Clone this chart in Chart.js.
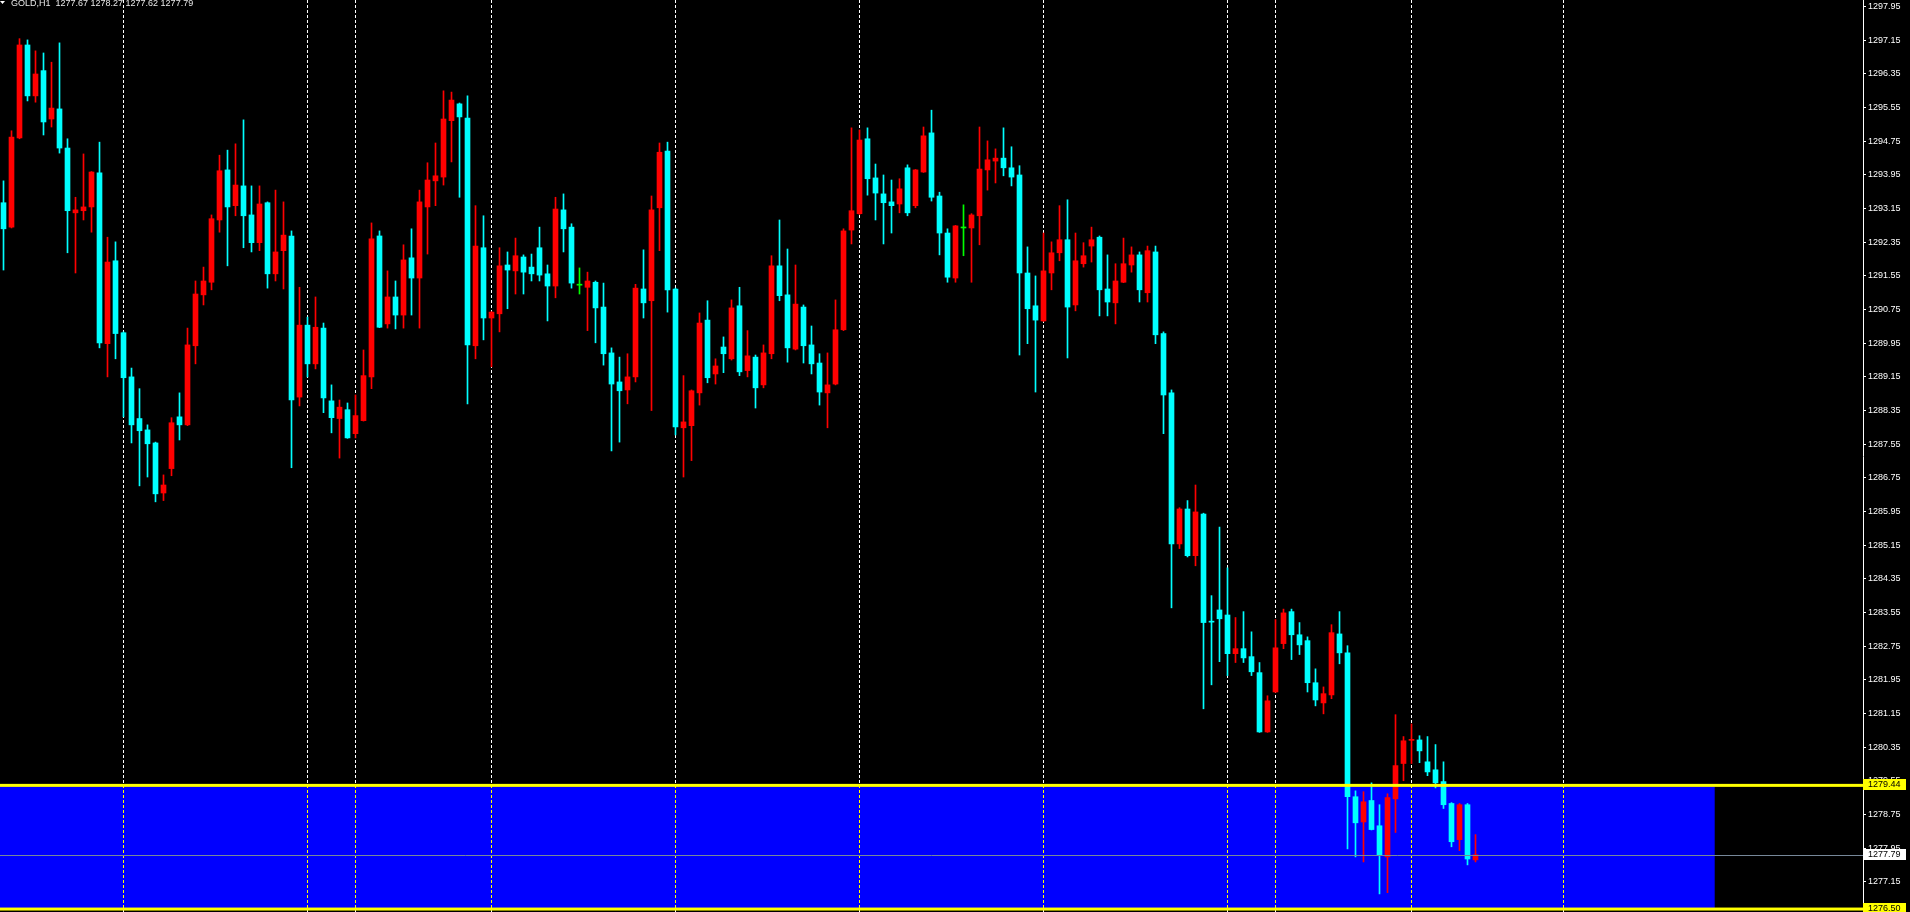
<!DOCTYPE html>
<html>
<head>
<meta charset="utf-8">
<title>GOLD,H1</title>
<script src="https://cdn.jsdelivr.net/npm/chart.js@4.4.1/dist/chart.umd.min.js"></script>
<style>
  html, body { margin: 0; padding: 0; background: #000; overflow: hidden; }
  canvas { display: block; }
</style>
</head>
<body>
<canvas id="chart" width="1910" height="912"></canvas>
<script>
// H1 bars, oldest first
const opens = [
  1293.29, 1292.71, 1294.83, 1297.04, 1295.83, 1296.43, 1295.28, 1295.52, 1294.59, 1293.05,
  1293.10, 1293.19, 1294.00, 1289.94, 1291.91, 1290.20, 1289.15, 1288.16, 1287.89, 1287.58,
  1286.39, 1286.97, 1288.20, 1288.01, 1289.89, 1291.10, 1291.40, 1292.88, 1294.07, 1293.22,
  1293.69, 1293.00, 1292.34, 1293.29, 1291.60, 1292.15, 1292.50, 1288.67, 1290.38, 1289.46,
  1290.31, 1288.58, 1288.16, 1288.37, 1287.80, 1288.11, 1289.15, 1292.50, 1290.41, 1291.05,
  1290.62, 1291.98, 1291.50, 1293.19, 1293.81, 1293.90, 1295.24, 1295.64, 1295.30, 1289.89,
  1292.22, 1290.55, 1290.65, 1291.81, 1291.67, 1292.00, 1291.76, 1292.22, 1291.60, 1291.31,
  1293.12, 1292.71, 1291.33, 1291.28, 1291.40, 1290.81, 1289.72, 1289.03, 1288.84, 1289.15,
  1291.24, 1290.96, 1293.17, 1294.52, 1291.24, 1287.94, 1287.99, 1288.77, 1290.50, 1289.22,
  1289.86, 1289.58, 1290.84, 1289.30, 1289.62, 1288.96, 1289.70, 1291.79, 1291.10, 1289.81,
  1290.81, 1289.91, 1289.48, 1288.77, 1288.98, 1290.27, 1292.64, 1293.03, 1294.81, 1293.88,
  1293.50, 1293.31, 1293.26, 1294.12, 1293.22, 1294.02, 1294.95, 1293.45, 1292.57, 1291.50,
  1292.69, 1292.69, 1292.98, 1294.07, 1294.28, 1294.35, 1294.12, 1293.95, 1291.62, 1290.84,
  1290.48, 1291.62, 1292.10, 1292.41, 1290.86, 1291.84, 1292.26, 1292.47, 1291.24, 1290.91,
  1291.40, 1291.81, 1292.05, 1291.15, 1292.12, 1290.18, 1288.77, 1285.18, 1286.01, 1284.90,
  1285.89, 1283.34, 1283.61, 1283.49, 1282.57, 1282.69, 1282.50, 1282.12, 1280.71, 1281.66,
  1282.81, 1283.57, 1283.02, 1282.88, 1281.88, 1281.40, 1281.59, 1283.04, 1282.59, 1279.17,
  1278.57, 1279.08, 1278.48, 1277.74, 1279.12, 1279.96, 1280.51, 1280.52, 1280.00, 1279.81,
  1279.53, 1279.01, 1278.15, 1278.98, 1277.67
];
const highs = [
  1293.81, 1295.00, 1297.19, 1297.16, 1296.90, 1296.85, 1296.63, 1297.09, 1294.81, 1293.42,
  1294.45, 1294.03, 1294.73, 1292.47, 1292.36, 1290.22, 1289.36, 1288.87, 1288.01, 1287.60,
  1286.82, 1288.18, 1288.77, 1290.31, 1291.43, 1291.76, 1293.00, 1294.42, 1294.54, 1294.69,
  1295.26, 1293.69, 1293.69, 1293.31, 1293.59, 1293.31, 1292.62, 1291.28, 1290.57, 1291.05,
  1290.43, 1288.96, 1288.60, 1288.53, 1288.72, 1289.79, 1292.81, 1292.62, 1291.67, 1291.43,
  1292.29, 1292.67, 1293.59, 1294.24, 1294.71, 1295.95, 1295.92, 1295.66, 1295.83, 1293.22,
  1292.98, 1290.70, 1292.22, 1292.12, 1292.45, 1292.05, 1292.07, 1292.71, 1291.81, 1293.42,
  1293.50, 1292.79, 1291.74, 1291.64, 1291.43, 1291.38, 1289.84, 1289.62, 1289.70, 1291.35,
  1292.17, 1293.45, 1294.71, 1294.73, 1291.26, 1289.18, 1288.84, 1290.67, 1290.96, 1289.58,
  1290.10, 1290.98, 1291.28, 1290.25, 1289.67, 1289.91, 1292.03, 1292.88, 1292.19, 1291.81,
  1290.86, 1290.36, 1289.70, 1289.72, 1290.98, 1292.67, 1295.07, 1295.02, 1295.07, 1294.21,
  1293.95, 1293.83, 1293.86, 1294.19, 1294.08, 1295.09, 1295.49, 1293.54, 1292.67, 1292.75,
  1293.24, 1293.03, 1295.09, 1294.76, 1294.57, 1295.07, 1294.62, 1294.17, 1292.24, 1291.55,
  1292.57, 1292.36, 1293.22, 1293.36, 1292.57, 1292.34, 1292.71, 1292.50, 1292.05, 1291.84,
  1292.45, 1292.24, 1292.12, 1292.26, 1292.26, 1290.22, 1288.84, 1286.04, 1286.21, 1286.58,
  1285.91, 1283.95, 1285.58, 1284.61, 1283.43, 1283.57, 1283.09, 1282.36, 1281.57, 1283.38,
  1283.63, 1283.63, 1283.31, 1282.97, 1282.21, 1281.78, 1283.26, 1283.57, 1282.76, 1279.31,
  1279.29, 1279.50, 1278.98, 1279.24, 1281.12, 1280.60, 1280.90, 1280.62, 1280.60, 1280.41,
  1280.00, 1279.03, 1279.01, 1279.01, 1278.27
];
const lows = [
  1291.69, 1292.69, 1294.81, 1295.71, 1295.68, 1294.90, 1295.09, 1294.47, 1292.10, 1291.62,
  1292.88, 1292.59, 1289.84, 1289.15, 1289.58, 1288.20, 1287.58, 1286.56, 1286.77, 1286.18,
  1286.21, 1286.80, 1287.65, 1287.99, 1289.46, 1290.86, 1291.22, 1292.59, 1291.79, 1292.98,
  1292.22, 1292.12, 1292.15, 1291.26, 1291.43, 1291.24, 1286.99, 1288.46, 1289.15, 1289.34,
  1288.30, 1287.82, 1287.22, 1287.69, 1287.70, 1288.10, 1288.87, 1290.32, 1290.31, 1290.29,
  1290.31, 1290.62, 1290.31, 1292.07, 1293.22, 1293.71, 1294.26, 1293.42, 1288.51, 1289.58,
  1290.03, 1289.39, 1290.22, 1290.77, 1291.12, 1291.12, 1291.43, 1291.43, 1290.48, 1291.03,
  1292.12, 1291.26, 1291.12, 1290.25, 1289.96, 1289.43, 1287.39, 1287.60, 1288.51, 1289.03,
  1290.55, 1288.35, 1292.15, 1290.69, 1287.77, 1286.77, 1287.16, 1288.48, 1289.01, 1288.98,
  1289.25, 1289.55, 1289.18, 1289.15, 1288.41, 1288.89, 1289.58, 1290.96, 1289.50, 1289.79,
  1289.48, 1289.22, 1288.48, 1287.94, 1288.96, 1290.25, 1292.31, 1293.01, 1293.47, 1292.88,
  1292.31, 1292.57, 1293.05, 1292.98, 1293.17, 1294.01, 1293.33, 1292.05, 1291.40, 1291.40,
  1292.03, 1291.40, 1292.29, 1293.59, 1293.76, 1293.93, 1293.69, 1289.67, 1289.94, 1288.79,
  1290.47, 1291.22, 1291.91, 1289.60, 1290.72, 1291.76, 1291.88, 1290.60, 1290.60, 1290.41,
  1291.39, 1291.64, 1290.93, 1290.93, 1289.94, 1287.80, 1283.66, 1285.07, 1284.87, 1284.66,
  1281.26, 1281.83, 1282.38, 1282.05, 1282.36, 1282.36, 1282.05, 1280.70, 1280.70, 1281.65,
  1282.69, 1282.43, 1282.55, 1281.66, 1281.33, 1281.14, 1281.50, 1282.33, 1277.93, 1277.74,
  1277.62, 1278.38, 1276.86, 1276.89, 1278.32, 1279.55, 1279.96, 1279.98, 1279.67, 1279.38,
  1278.89, 1277.98, 1277.89, 1277.55, 1277.62
];
const closes = [
  1292.67, 1294.85, 1297.04, 1295.83, 1296.35, 1295.21, 1295.54, 1294.59, 1293.10, 1293.12,
  1293.19, 1294.02, 1289.96, 1291.88, 1290.18, 1289.13, 1288.01, 1287.87, 1287.56, 1286.37,
  1286.58, 1288.06, 1288.01, 1289.91, 1291.12, 1291.43, 1292.91, 1294.05, 1293.19, 1293.71,
  1292.98, 1292.34, 1293.26, 1291.60, 1292.12, 1292.52, 1288.60, 1290.38, 1289.46, 1290.33,
  1288.65, 1288.18, 1288.43, 1287.70, 1288.23, 1289.18, 1292.43, 1290.33, 1291.05, 1290.62,
  1291.93, 1291.50, 1293.31, 1293.83, 1293.93, 1295.28, 1295.73, 1295.33, 1289.91, 1292.26,
  1290.55, 1290.69, 1291.79, 1291.69, 1292.03, 1291.64, 1291.60, 1291.57, 1291.31, 1293.14,
  1292.67, 1291.38, 1291.33, 1291.43, 1290.79, 1289.70, 1288.98, 1288.82, 1289.15, 1291.26,
  1290.91, 1293.12, 1294.49, 1291.22, 1287.96, 1288.08, 1288.82, 1290.43, 1289.13, 1289.41,
  1289.70, 1290.79, 1289.27, 1289.65, 1288.89, 1289.72, 1291.79, 1291.08, 1289.84, 1290.88,
  1289.89, 1289.46, 1288.79, 1288.96, 1290.27, 1292.62, 1293.10, 1294.78, 1293.86, 1293.52,
  1293.29, 1293.22, 1293.62, 1293.05, 1294.07, 1294.88, 1293.42, 1292.57, 1291.52, 1292.74,
  1292.69, 1293.00, 1294.09, 1294.31, 1294.35, 1294.12, 1293.90, 1291.62, 1290.77, 1290.50,
  1291.67, 1292.10, 1292.41, 1290.81, 1291.91, 1292.03, 1292.41, 1291.22, 1290.93, 1291.43,
  1291.84, 1292.05, 1291.22, 1292.15, 1290.15, 1288.72, 1285.18, 1286.01, 1284.90, 1285.94,
  1283.31, 1283.32, 1283.40, 1282.57, 1282.69, 1282.47, 1282.14, 1280.71, 1281.45, 1282.71,
  1283.54, 1283.02, 1282.78, 1281.88, 1281.47, 1281.62, 1283.07, 1282.59, 1279.17, 1278.55,
  1279.05, 1278.39, 1277.79, 1279.15, 1279.91, 1280.50, 1280.53, 1280.26, 1279.76, 1279.50,
  1278.98, 1278.10, 1278.98, 1277.69, 1277.79
];

// price scale labels
const yTicks = [
  1297.95, 1297.15, 1296.35, 1295.55, 1294.75, 1293.95, 1293.15, 1292.35, 1291.55,
  1290.75, 1289.95, 1289.15, 1288.35, 1287.55, 1286.75, 1285.95, 1285.15, 1284.35,
  1283.55, 1282.75, 1281.95, 1281.15, 1280.35, 1279.55, 1278.75, 1277.95, 1277.15
];

// period separators (bar index)
const separatorBars = [15, 38, 44, 61, 84, 107, 130, 153, 159, 176, 195];

// rectangle zone + horizontal levels
const zonePrices = [1279.44, 1276.50];
const zoneBars = [-2, 213.9];
const bidPrice = 1277.79;

const headerText = "GOLD,H1  1277.67 1278.27 1277.62 1277.79";

const BULL = "#ff0000";
const BEAR = "#00ffff";
const DOJI = "#00ff00";
const FONT = "9px 'Liberation Sans', Arial, sans-serif";

const colors = opens.map((o, i) =>
  closes[i] > o ? BULL : closes[i] < o ? BEAR : DOJI
);

const bodyData = opens.map((o, i) => ({ x: i, y: [o, closes[i]] }));
const wickData = lows.map((l, i) => ({ x: i, y: [l, highs[i]] }));

const mtPlugin = {
  id: "mt",
  beforeDraw(chart) {
    const c = chart.ctx;
    c.save();
    c.fillStyle = "#000";
    c.fillRect(0, 0, chart.width, chart.height);
    c.restore();
  },
  beforeDatasetsDraw(chart) {
    const c = chart.ctx;
    const xs = chart.scales.x;
    const ys = chart.scales.y;
    const a = chart.chartArea;
    c.save();
    c.beginPath();
    c.rect(a.left, a.top, a.right - a.left, a.bottom - a.top);
    c.clip();

    // blue zone
    const x1 = xs.getPixelForValue(zoneBars[0]);
    const x2 = xs.getPixelForValue(zoneBars[1]);
    const y1 = ys.getPixelForValue(zonePrices[0]);
    const y2 = ys.getPixelForValue(zonePrices[1]);
    c.fillStyle = "#0000ff";
    c.fillRect(x1, y1, x2 - x1, y2 - y1);

    // separators, xor-like
    c.globalCompositeOperation = "difference";
    c.strokeStyle = "#ffffff";
    c.lineWidth = 1;
    c.setLineDash([3, 2]);
    separatorBars.forEach((b) => {
      const x = Math.floor(xs.getPixelForValue(b)) + 0.5;
      c.beginPath();
      c.moveTo(x, a.top);
      c.lineTo(x, a.bottom);
      c.stroke();
    });
    c.restore();
  },
  afterDatasetsDraw(chart) {
    const c = chart.ctx;
    const ys = chart.scales.y;
    const a = chart.chartArea;
    c.save();
    // yellow levels
    c.fillStyle = "#ffff00";
    zonePrices.forEach((p) => {
      const y = ys.getPixelForValue(p);
      c.fillRect(0, y - 1.5, a.right, 3);
    });
    // bid line
    const yb = Math.round(ys.getPixelForValue(bidPrice)) + 0.5;
    c.strokeStyle = "#778899";
    c.lineWidth = 1;
    c.beginPath();
    c.moveTo(0, yb);
    c.lineTo(a.right, yb);
    c.stroke();
    c.restore();
  },
  afterDraw(chart) {
    const c = chart.ctx;
    const ys = chart.scales.y;
    const a = chart.chartArea;
    c.save();
    c.font = FONT;
    c.textBaseline = "middle";
    c.textAlign = "left";
    const boxes = [
      [zonePrices[0], "#ffff00"],
      [bidPrice, "#ffffff"],
      [zonePrices[1], "#ffff00"],
    ];
    boxes.forEach(([p, bg]) => {
      const y = ys.getPixelForValue(p);
      c.fillStyle = bg;
      c.fillRect(a.right, Math.round(y) - 6, 43, 11);
      c.fillStyle = "#000";
      c.fillText(p.toFixed(2), a.right + 5, Math.round(y) - 0.5);
    });

    // header
    c.fillStyle = "#ffffff";
    c.beginPath();
    c.moveTo(0, 1);
    c.lineTo(5, 1);
    c.lineTo(2.5, 4);
    c.closePath();
    c.fill();
    c.fillStyle = "#e8e8e8";
    c.textBaseline = "alphabetic";
    c.fillText(headerText, 11, 6);
    c.restore();
  },
};

new Chart(document.getElementById("chart"), {
  type: "bar",
  data: {
    datasets: [
      {
        label: "body",
        data: bodyData,
        backgroundColor: colors,
        borderWidth: 0,
        barThickness: 5,
        minBarLength: 1,
        grouped: false,
        order: 0,
      },
      {
        label: "wick",
        data: wickData,
        backgroundColor: colors,
        borderWidth: 0,
        barThickness: 1,
        grouped: false,
        order: 1,
      },
    ],
  },
  options: {
    responsive: false,
    animation: false,
    events: [],
    layout: { padding: 0 },
    plugins: {
      legend: { display: false },
      tooltip: { enabled: false },
    },
    scales: {
      x: {
        type: "linear",
        display: false,
        offset: false,
        bounds: "data",
        min: -0.4375,
        max: 232.4375,
      },
      y: {
        position: "right",
        min: 1276.43,
        max: 1298.109,
        afterBuildTicks: (scale) => {
          scale.ticks = yTicks.map((v) => ({ value: v }));
        },
        afterFit: (scale) => {
          scale.width = 47;
          scale.paddingTop = 0;
          scale.paddingBottom = 0;
        },
        border: { display: true, color: "#ffffff", width: 1 },
        grid: {
          drawOnChartArea: false,
          drawTicks: true,
          tickLength: 3,
          color: "#ffffff",
        },
        ticks: {
          autoSkip: false,
          color: "#ffffff",
          padding: 2,
          font: { family: "'Liberation Sans', Arial, sans-serif", size: 9 },
          callback: (v) => Number(v).toFixed(2),
        },
      },
    },
  },
  plugins: [mtPlugin],
});
</script>
</body>
</html>
